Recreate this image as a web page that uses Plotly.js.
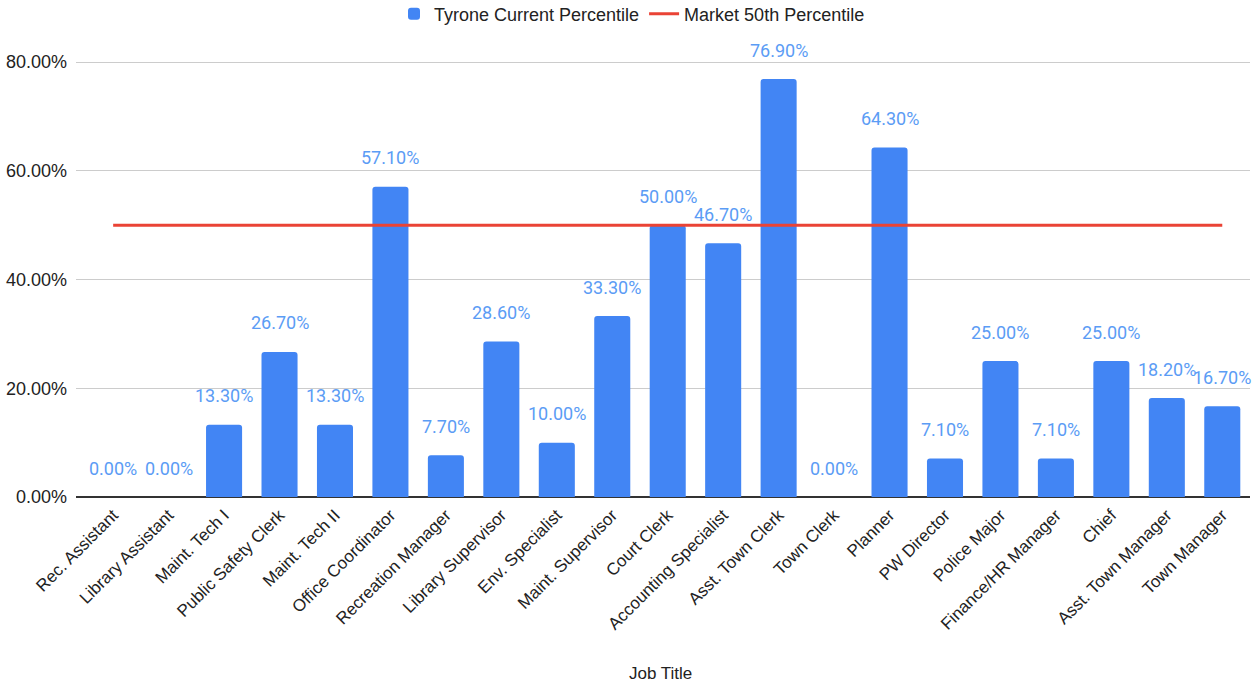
<!DOCTYPE html>
<html><head><meta charset="utf-8">
<script src="https://cdn.plot.ly/plotly-3.0.1.min.js"></script>
<style>html,body{margin:0;padding:0;background:#fff}</style>
</head><body>
<div id="chart" style="width:1258px;height:685px"></div>
<script>
const jobTitles = ["Rec. Assistant","Library Assistant","Maint. Tech I","Public Safety Clerk","Maint. Tech II","Office Coordinator","Recreation Manager","Library Supervisor","Env. Specialist","Maint. Supervisor","Court Clerk","Accounting Specialist","Asst. Town Clerk","Town Clerk","Planner","PW Director","Police Major","Finance/HR Manager","Chief","Asst. Town Manager","Town Manager"];
const currentPercentile = [0.0,0.0,13.3,26.7,13.3,57.1,7.7,28.6,10.0,33.3,50.0,46.7,76.9,0.0,64.3,7.1,25.0,7.1,25.0,18.2,16.7];
const marketPercentile = [50,50,50,50,50,50,50,50,50,50,50,50,50,50,50,50,50,50,50,50,50];

const AX = "'Liberation Sans', Arial, sans-serif";
const RB = "Roboto, Arial, sans-serif";
const TXT = "#222";
const barTrace = {
  type: "bar", name: "Tyrone Current Percentile",
  x: jobTitles, y: currentPercentile.map(v => v/100),
  marker: {color: "#4285F4", cornerradius: 3},
  hoverinfo: "x+y"
};
const lineTrace = {
  type: "scatter", mode: "lines", name: "Market 50th Percentile",
  x: jobTitles, y: marketPercentile.map(v => v/100),
  line: {color: "#EA4335", width: 3}
};
const annotations = jobTitles.map((c,i) => ({
  x: c, y: currentPercentile[i]/100, xref: "x", yref: "y",
  text: currentPercentile[i].toFixed(2) + "%",
  showarrow: false, yshift: 29,
  font: {family: RB, size: 18, color: "#5b9cf5"}
}));
annotations.push({
  text: "Job Title", xref: "paper", yref: "paper",
  x: (660 - 76) / 1174, y: -(673 - 497) / 462, xanchor: "center", yanchor: "middle",
  showarrow: false, font: {family: AX, size: 17, color: TXT}
});
const layout = {
  width: 1258, height: 685,
  margin: {l: 76, r: 8, t: 35, b: 188},
  paper_bgcolor: "#fff", plot_bgcolor: "#fff",
  font: {family: AX, size: 17, color: TXT},
  bargap: 0.35,
  showlegend: true,
  legend: {orientation: "h", x: 632/1258, xref: "container", xanchor: "center",
           y: 1 - 14/685, yref: "container", yanchor: "middle",
           font: {family: AX, size: 18, color: TXT}, traceorder: "normal"},
  xaxis: {
    type: "category", range: [-0.67, 20.5], tickangle: -45,
    tickfont: {family: AX, size: 17, color: TXT},
    showgrid: false, showline: false, ticks: "", ticklabelstandoff: 4
  },
  yaxis: {
    range: [0, 0.85], tickformat: ".2%", tickvals: [0,0.2,0.4,0.6,0.8],
    tickfont: {family: AX, size: 18, color: TXT},
    gridcolor: "#cccccc", gridwidth: 1,
    zeroline: true, zerolinecolor: "#333", zerolinewidth: 1.5,
    ticks: "", ticklabelstandoff: 8
  },
  annotations: annotations
};
Plotly.newPlot("chart", [barTrace, lineTrace], layout, {displayModeBar: false, staticPlot: true});
</script>
</body></html>
